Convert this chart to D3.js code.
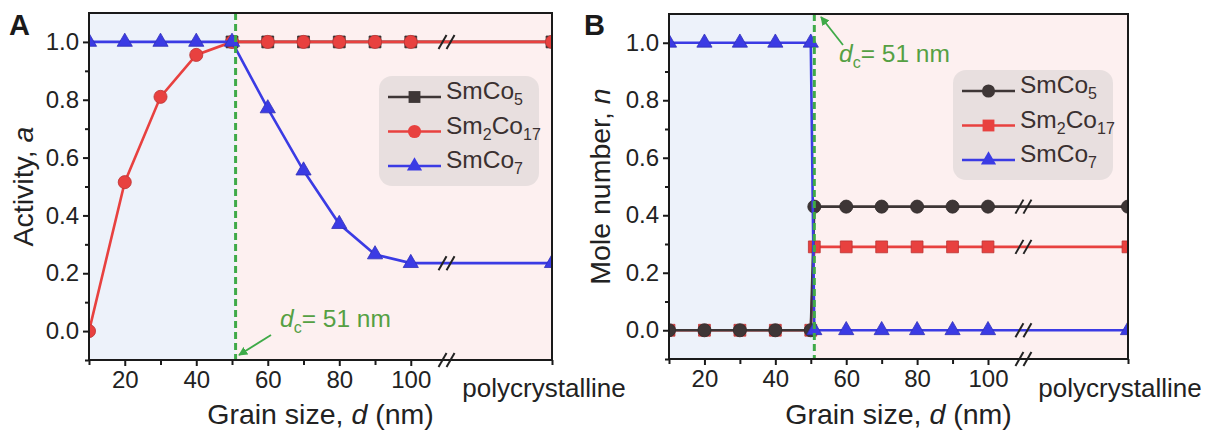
<!DOCTYPE html>
<html>
<head>
<meta charset="utf-8">
<script src="https://cdn.jsdelivr.net/npm/d3@7"></script>
<style>
body { margin: 0; background: #fff; }
svg { display: block; font-family: Arial, "Liberation Sans", sans-serif; }
</style>
</head>
<body>
<svg id="chart" width="1219" height="432"></svg>
<script>
// ---- data ----
var yTicks = [0.0, 0.2, 0.4, 0.6, 0.8, 1.0];
var xTicks = [20, 40, 60, 80, 100];
var dCrit = 51;
var breakAt = 110;

// panel A : activity
var actX = [10, 20, 30, 40, 50, 60, 70, 80, 90, 100, "poly"];
var actSmCo5X = [50, 60, 70, 80, 90, 100, "poly"];
var actSmCo5 = [1, 1, 1, 1, 1, 1, 1];
var actSm2Co17 = [0, 0.515, 0.81, 0.955, 1.0, 1, 1, 1, 1, 1, 1];
var actSmCo7 = [1, 1, 1, 1, 1, 0.77, 0.555, 0.37, 0.265, 0.235, 0.235];

// panel B : mole number
var molX = [10, 20, 30, 40, 50, 51, 60, 70, 80, 90, 100, "poly"];
var molSmCo5 = [0, 0, 0, 0, 0, 0.43, 0.43, 0.43, 0.43, 0.43, 0.43, 0.43];
var molSm2Co17 = [0, 0, 0, 0, 0, 0.29, 0.29, 0.29, 0.29, 0.29, 0.29, 0.29];
var molSmCo7 = [1, 1, 1, 1, 1, 0, 0, 0, 0, 0, 0, 0];

var colBlack = "#3e3636", colRed = "#e8413f", colBlue = "#3b3be4";
var colGreen = "#3faa48", colGreenText = "#55a043";

var svg = d3.select("#chart");

var defs = svg.append("defs");
defs.append("marker")
  .attr("id", "arrow")
  .attr("viewBox", "0 0 10 10")
  .attr("refX", 9).attr("refY", 5)
  .attr("markerWidth", 9).attr("markerHeight", 9)
  .attr("markerUnits", "userSpaceOnUse")
  .attr("orient", "auto")
  .append("path").attr("d", "M0,0 L10,5 L0,10 Z").attr("fill", colGreen);

function pts(xs, ys) {
  var out = [];
  for (var i = 0; i < xs.length; i++) out.push({x: xs[i], y: ys[i]});
  return out;
}

function drawPanel(cfg) {
  var x = d3.scaleLinear().domain([10, 139.5]).range([cfg.left, cfg.right]);
  var y = d3.scaleLinear().domain([-0.1, 1.1]).range([cfg.bottom, cfg.top]);
  function xv(v) { return v === "poly" ? x.domain()[1] : v; }

  var g = svg.append("g");
  var clipId = "clip" + cfg.name;
  defs.append("clipPath").attr("id", clipId)
    .append("rect").attr("x", cfg.left).attr("y", cfg.top)
    .attr("width", cfg.right - cfg.left).attr("height", cfg.bottom - cfg.top);

  // shaded regions
  g.append("rect").attr("x", x(10)).attr("y", cfg.top)
    .attr("width", x(dCrit) - x(10)).attr("height", cfg.bottom - cfg.top)
    .attr("fill", "#edf2fa");
  g.append("rect").attr("x", x(dCrit)).attr("y", cfg.top)
    .attr("width", cfg.right - x(dCrit)).attr("height", cfg.bottom - cfg.top)
    .attr("fill", "#fdf0f0");

  var plot = g.append("g").attr("clip-path", "url(#" + clipId + ")");
  var line = d3.line().x(function(d) { return x(xv(d.x)); }).y(function(d) { return y(d.y); });

  cfg.series.forEach(function(s) {
    var data = pts(s.xs, s.ys);
    plot.append("path").datum(data)
      .attr("d", line).attr("fill", "none")
      .attr("stroke", s.color).attr("stroke-width", 2.6);
    plot.selectAll(null).data(data).enter().append("path")
      .attr("transform", function(d) { return "translate(" + x(xv(d.x)) + "," + y(d.y) + ")"; })
      .attr("d", d3.symbol().type(s.shape).size(s.size))
      .attr("fill", s.color)
      .attr("stroke", d3.color(s.color).darker(0.6))
      .attr("stroke-width", 0.8);
  });

  // break marks on lines
  cfg.breakYs.forEach(function(v) { breakMark(g, x(breakAt), y(v)); });
  breakMark(g, x(breakAt), cfg.bottom);

  // critical size line
  g.append("line")
    .attr("x1", x(dCrit)).attr("x2", x(dCrit))
    .attr("y1", cfg.top).attr("y2", cfg.bottom)
    .attr("stroke", colGreen).attr("stroke-width", 3)
    .attr("stroke-dasharray", "7,4");

  // frame
  g.append("rect").attr("x", cfg.left).attr("y", cfg.top)
    .attr("width", cfg.right - cfg.left).attr("height", cfg.bottom - cfg.top)
    .attr("fill", "none").attr("stroke", "#1a1a1a").attr("stroke-width", 2);

  // y axis
  var yAx = g.append("g").attr("transform", "translate(" + cfg.left + ",0)")
    .call(d3.axisLeft(y).tickValues(yTicks).tickFormat(d3.format(".1f")).tickSize(6).tickPadding(4));
  var yMin = g.append("g").attr("transform", "translate(" + cfg.left + ",0)")
    .call(d3.axisLeft(y).tickValues([-0.1, 0.1, 0.3, 0.5, 0.7, 0.9]).tickFormat("").tickSize(4));
  // x axis
  var xAx = g.append("g").attr("transform", "translate(0," + cfg.bottom + ")")
    .call(d3.axisBottom(x).tickValues(xTicks).tickFormat(d3.format("d")).tickSize(6).tickPadding(5));
  var xMin = g.append("g").attr("transform", "translate(0," + cfg.bottom + ")")
    .call(d3.axisBottom(x).tickValues([10, 30, 50, 70, 90, x.domain()[1]]).tickFormat("").tickSize(5));
  [yAx, yMin, xAx, xMin].forEach(function(a) {
    a.select(".domain").remove();
    a.selectAll("line").attr("stroke", "#1a1a1a").attr("stroke-width", 2);
    a.selectAll("text")
      .style("font-size", "24px")
      .style("font-family", "Arial, 'Liberation Sans', sans-serif")
      .attr("fill", "#222");
  });

  g.append("text").attr("x", x.domain().map(x)[1] - 8).attr("y", 397)
    .attr("text-anchor", "middle").style("font-size", "26px").attr("fill", "#222")
    .text("polycrystalline");

  // axis titles
  var xt = g.append("text").attr("x", (cfg.left + cfg.right) / 2).attr("y", 424)
    .attr("text-anchor", "middle").style("font-size", "28.5px").attr("fill", "#222");
  xt.append("tspan").text("Grain size, ");
  xt.append("tspan").attr("font-style", "italic").text("d");
  xt.append("tspan").text(" (nm)");

  var yt = g.append("text")
    .attr("transform", "translate(" + cfg.ytX + "," + ((cfg.top + cfg.bottom) / 2) + ") rotate(-90)")
    .attr("text-anchor", "middle").style("font-size", "28.5px").attr("fill", "#222");
  yt.append("tspan").text(cfg.yTitle);
  yt.append("tspan").attr("font-style", "italic").text(cfg.yVar);

  // panel letter
  g.append("text").attr("x", cfg.letterX).attr("y", 35)
    .style("font-size", "29px").attr("font-weight", "bold").attr("fill", "#1a1a1a").text(cfg.name);

  // legend
  var lg = g.append("g").attr("transform", "translate(" + cfg.legX + "," + cfg.legY + ")");
  lg.append("rect").attr("width", 160).attr("height", 110).attr("rx", 13)
    .attr("fill", "#e8dfdf");
  cfg.legend.forEach(function(s, i) {
    var ry = 21 + i * 34.5;
    lg.append("line").attr("x1", 9).attr("x2", 62).attr("y1", ry).attr("y2", ry)
      .attr("stroke", s.color).attr("stroke-width", 2.6);
    lg.append("path").attr("transform", "translate(35.5," + ry + ")")
      .attr("d", d3.symbol().type(s.shape).size(s.size)).attr("fill", s.color);
    var t = lg.append("text").attr("x", 67).attr("y", ry + 8)
      .style("font-size", "24.5px").attr("fill", "#3a3030");
    s.label.forEach(function(part) {
      if (part[1]) {
        t.append("tspan").style("font-size", "16px").attr("dy", 6).text(part[0]);
      } else {
        t.append("tspan").attr("dy", t.selectAll("tspan").size() ? -6 : 0).text(part[0]);
      }
    });
  });

  // d_c annotation
  var a = cfg.note;
  g.append("line").attr("x1", a.x1).attr("y1", a.y1).attr("x2", a.x2).attr("y2", a.y2)
    .attr("stroke", colGreen).attr("stroke-width", 1.8).attr("marker-end", "url(#arrow)");
  var nt = g.append("text").attr("x", a.tx).attr("y", a.ty)
    .style("font-size", "24.5px").attr("fill", colGreenText);
  nt.append("tspan").attr("font-style", "italic").text("d");
  nt.append("tspan").style("font-size", "16px").attr("dy", 6).text("c");
  nt.append("tspan").attr("dy", -6).text("= 51 nm");
}

function breakMark(g, cx, cy) {
  [-4, 4].forEach(function(off) {
    g.append("line")
      .attr("x1", cx + off - 4).attr("y1", cy + 7)
      .attr("x2", cx + off + 4).attr("y2", cy - 7)
      .attr("stroke", "#222").attr("stroke-width", 2);
  });
}

var labSmCo5 = [["SmCo"], ["5", true]];
var labSm2Co17 = [["Sm"], ["2", true], ["Co"], ["17", true]];
var labSmCo7 = [["SmCo"], ["7", true]];

drawPanel({
  name: "A", left: 89, right: 552, top: 13, bottom: 360, ytX: 33, letterX: 9,
  yTitle: "Activity, ", yVar: "a",
  series: [
    {xs: actSmCo5X, ys: actSmCo5, color: colBlack, shape: d3.symbolSquare, size: 140},
    {xs: actX, ys: actSm2Co17, color: colRed, shape: d3.symbolCircle, size: 135},
    {xs: actX, ys: actSmCo7, color: colBlue, shape: d3.symbolTriangle, size: 100}
  ],
  breakYs: [1, 0.235],
  legX: 379, legY: 76,
  legend: [
    {label: labSmCo5, color: colBlack, shape: d3.symbolSquare, size: 140},
    {label: labSm2Co17, color: colRed, shape: d3.symbolCircle, size: 135},
    {label: labSmCo7, color: colBlue, shape: d3.symbolTriangle, size: 100}
  ],
  note: {x1: 271, y1: 335, x2: 239, y2: 355, tx: 280, ty: 327}
});

drawPanel({
  name: "B", left: 669, right: 1128, top: 14, bottom: 359, ytX: 610, letterX: 584,
  yTitle: "Mole number, ", yVar: "n",
  series: [
    {xs: molX, ys: molSm2Co17, color: colRed, shape: d3.symbolSquare, size: 140},
    {xs: molX, ys: molSmCo5, color: colBlack, shape: d3.symbolCircle, size: 135},
    {xs: molX, ys: molSmCo7, color: colBlue, shape: d3.symbolTriangle, size: 100}
  ],
  breakYs: [0.43, 0.29, 0],
  legX: 953, legY: 70,
  legend: [
    {label: labSmCo5, color: colBlack, shape: d3.symbolCircle, size: 135},
    {label: labSm2Co17, color: colRed, shape: d3.symbolSquare, size: 140},
    {label: labSmCo7, color: colBlue, shape: d3.symbolTriangle, size: 100}
  ],
  note: {x1: 843, y1: 45, x2: 821, y2: 17, tx: 839, ty: 62}
});
</script>
</body>
</html>
